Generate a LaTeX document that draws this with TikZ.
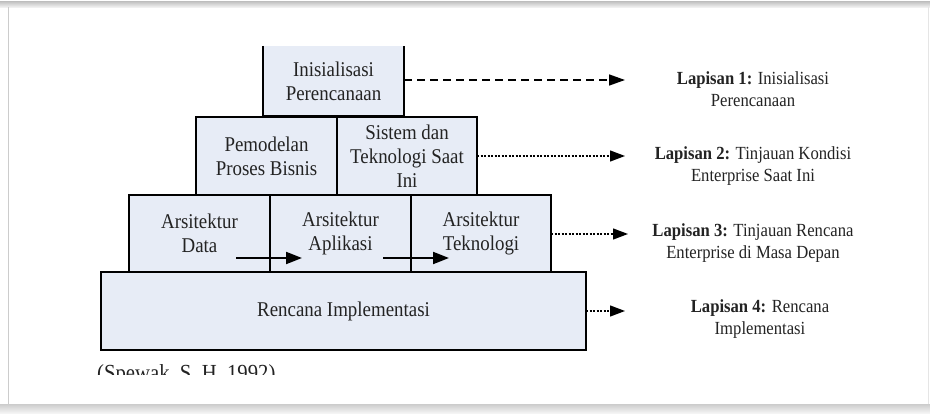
\documentclass[tikz,border=0pt]{standalone}
\usepackage{fontspec}
\setmainfont[FakeStretch=0.9]{Liberation Serif}
\usetikzlibrary{arrows.meta}
\definecolor{boxfill}{RGB}{231,236,246}
\definecolor{txt}{RGB}{35,35,35}
\begin{document}
\begin{tikzpicture}[x=1pt,y=-1pt,
  blk/.style={draw=black, line width=2pt, fill=boxfill, inner sep=0pt, outer sep=0pt,
    align=center, text=txt, font=\fontsize{21}{24}\selectfont},
  lbl/.style={align=center, text=txt, font=\fontsize{18.5}{22.5}\selectfont},
  inarrow/.style={line width=2pt, -{Triangle[length=16pt,width=12pt]}},
  longdash/.style={line width=1.5pt, dash pattern=on 8pt off 5pt, -{Triangle[length=16pt,width=11pt]}},
  finedash/.style={line width=1.3pt, dash pattern=on 2pt off 1.5pt, -{Triangle[length=15pt,width=11pt]}}
]
\useasboundingbox (0,0) rectangle (930,414);
% frame
\fill[white] (0,0) rectangle (930,414);
\shade[top color=gray!45, bottom color=gray!5] (0,2) rectangle (930,8);
\shade[top color=gray!40, bottom color=gray!5] (0,404) rectangle (930,414);
\draw[gray!40, line width=1.5pt] (8.5,7) -- (8.5,404);
\draw[gray!20, line width=1pt] (928,7) -- (928,404);

% boxes
\node[blk, minimum width=485pt, minimum height=78pt] (ri) at (343.5,311) {Rencana Implementasi};
\node[blk, minimum width=141pt, minimum height=77pt] (ad) at (199.5,233.5) {Arsitektur\\Data};
\node[blk, minimum width=141pt, minimum height=77pt] (aa) at (340.5,233.5) {Arsitektur\\Aplikasi};
\node[blk, minimum width=140pt, minimum height=77pt] (at) at (481,233.5) {Arsitektur\\Teknologi};
\node[blk, minimum width=141pt, minimum height=78pt] (pm) at (266.5,156) {Pemodelan\\Proses Bisnis};
\node[blk, minimum width=140pt, minimum height=78pt] (st) at (407,156) {Sistem dan\\Teknologi Saat\\Ini};
\node[blk, draw=none, minimum width=141pt, minimum height=70pt] (init) at (333.5,81) {Inisialisasi\\Perencanaan};
\draw[line width=2pt] (init.north west) -- (init.south west) -- (init.south east) -- (init.north east);

% inner arrows
\coordinate (a1s) at (236,258);
\coordinate (a1e) at (302,258);
\coordinate (a2s) at (383,258);
\coordinate (a2e) at (449,258);
\draw[inarrow] (a1s) -- (a1e);
\draw[inarrow] (a2s) -- (a2e);

% labels
\node[lbl] (l1) at (753,89) {\textbf{Lapisan 1:} Inisialisasi\\Perencanaan};
\node[lbl] (l2) at (753,166) {\textbf{Lapisan 2:} Tinjauan Kondisi\\Enterprise Saat Ini};
\node[lbl] (l3) at (753,243) {\textbf{Lapisan 3:} Tinjauan Rencana\\Enterprise di Masa Depan};
\node[lbl] (l4) at (760,319) {\textbf{Lapisan 4:} Rencana\\Implementasi};

\coordinate (e1) at (625,80);
\coordinate (e2) at (625,156);
\coordinate (e3) at (628,234);
\coordinate (e4) at (625,311);
\draw[longdash] (init.east |- e1) -- (e1);
\draw[finedash] (st.east |- e2) -- (e2);
\draw[finedash] (at.east |- e3) -- (e3);
\draw[finedash] (ri.east |- e4) -- (e4);

% citation (clipped)
\begin{scope}
\clip (80,355) rectangle (400,374);
\node[anchor=base west, inner sep=0pt, text=txt, font=\fontsize{23}{26}\selectfont] (cit) at (97,381) {(Spewak, S. H. 1992)};
\end{scope}
\end{tikzpicture}
\end{document}
